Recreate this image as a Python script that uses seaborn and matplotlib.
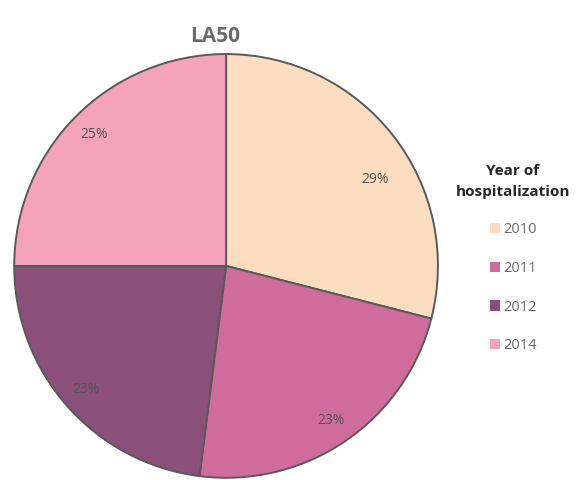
import matplotlib.pyplot as plt
import matplotlib.patches as mpatches
import seaborn as sns

# Data
years = ['2010', '2011', '2012', '2014']
shares = [29, 23, 23, 25]
colors = ['#FCDDBF', '#D06C9C', '#8A5079', '#F4A3BA']

sns.set_theme(style='white')
plt.rcParams['font.family'] = ['Open Sans', 'DejaVu Sans']

fig = plt.figure(figsize=(5.76, 4.8), dpi=100)
ax = fig.add_axes([0.021, 0.0, 0.743, 0.892])

wedges, texts, autotexts = ax.pie(
    shares, colors=colors, startangle=90, counterclock=False,
    autopct='%1.0f%%', pctdistance=0.88,
    wedgeprops=dict(edgecolor='#5a5a5a', linewidth=1.4),
    textprops=dict(color='#555555', fontsize=10),
)
ax.set_xlim(-1.01, 1.01)
ax.set_ylim(-1.01, 1.01)
ax.set_aspect('equal')

# the 29% label sits a little lower in its slice
x, y = autotexts[0].get_position()
autotexts[0].set_position((x + 0.01, y - 0.13))

# Title
fig.text(215 / 576, 1 - 37 / 480, 'LA50', ha='center', va='center',
         fontsize=15, fontweight='bold', color='#6b6b6b')

# Legend on the right
handles = [mpatches.Patch(facecolor=c, edgecolor='none') for c in colors]
leg = fig.legend(handles, years, title='Year of\nhospitalization',
                 loc='upper center', bbox_to_anchor=(513 / 576, 1 - 151 / 480),
                 frameon=False, fontsize=10.5, title_fontsize=11,
                 handlelength=0.7, handleheight=0.7, handletextpad=0.2,
                 labelspacing=1.62)
leg.get_title().set_fontweight('bold')
leg.get_title().set_multialignment('center')
leg.get_title().set_linespacing(1.6)
for t in leg.get_texts():
    t.set_color('#6b6b6b')

fig.savefig('out.png', dpi=100)
